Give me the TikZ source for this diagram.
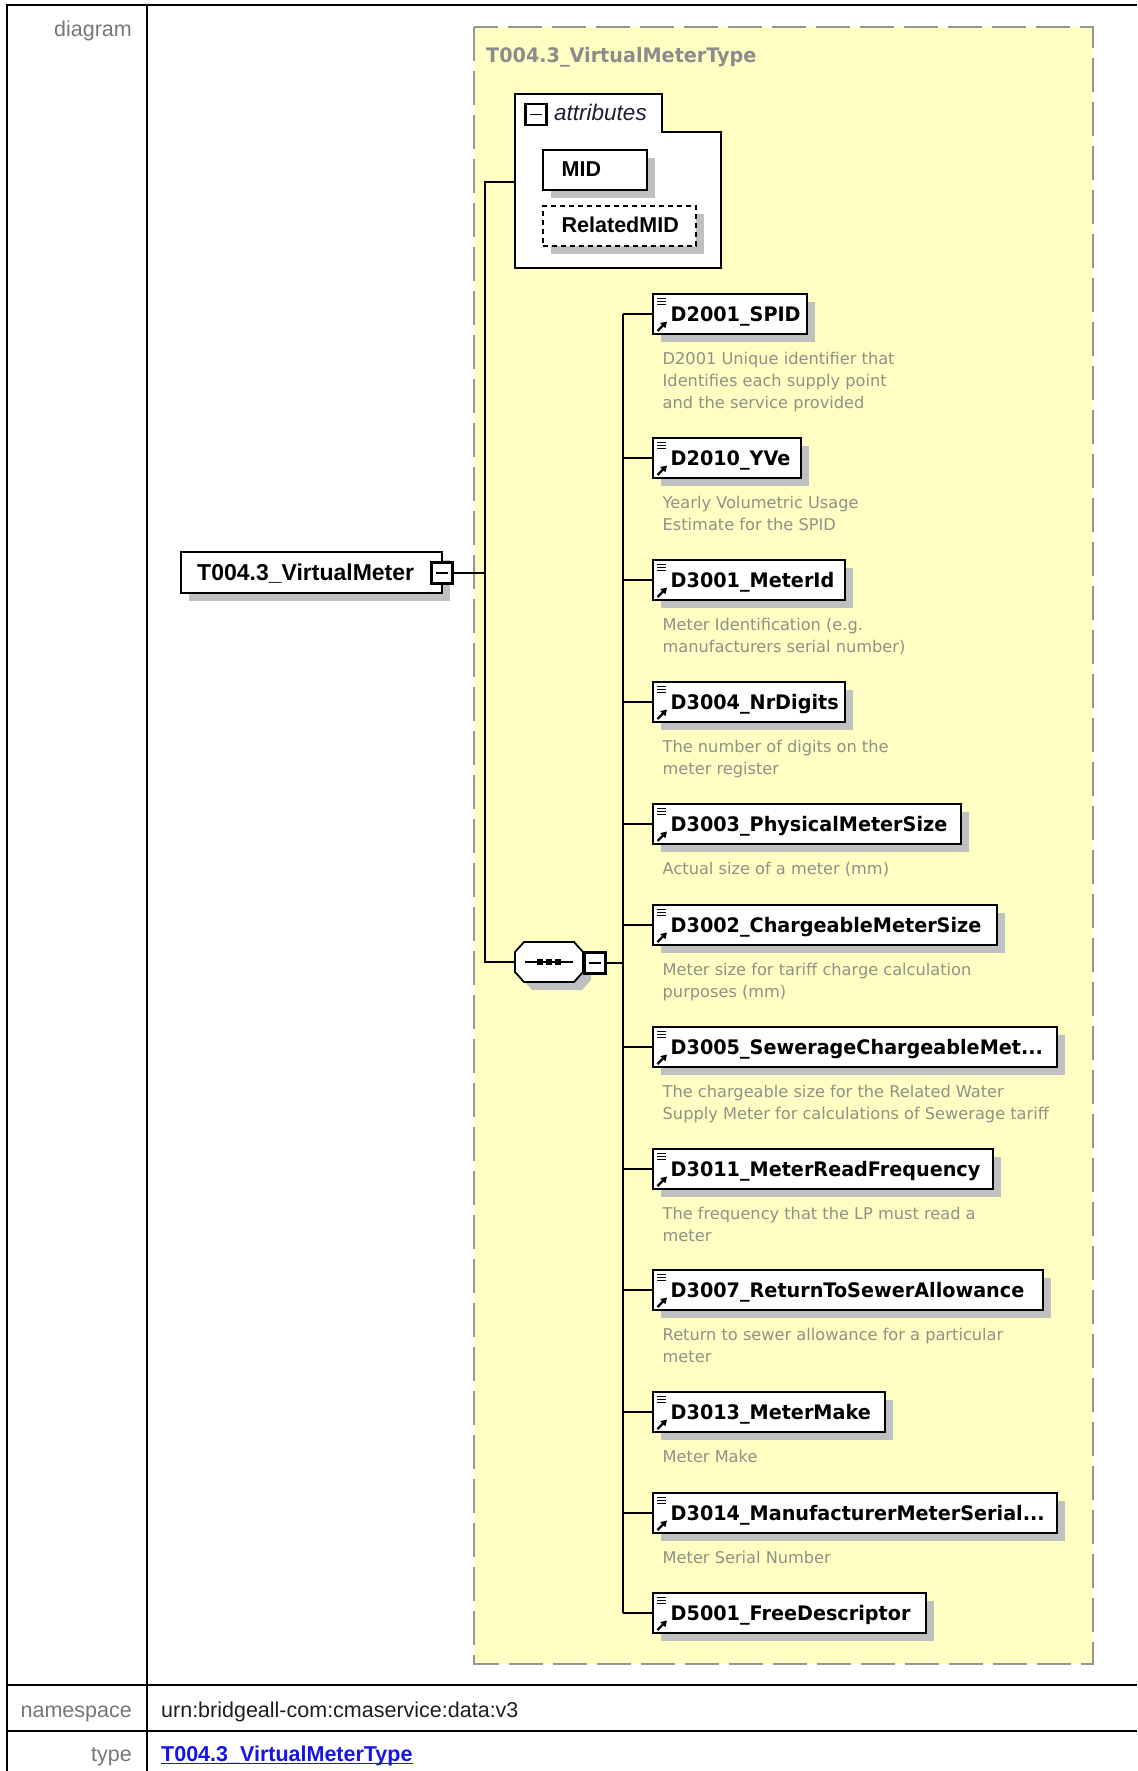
\documentclass[tikz,border=0pt]{standalone}
\usepackage{fontspec}
\setmainfont{Liberation Sans}
\newfontfamily\namefont[FakeStretch=0.96]{DejaVu Sans}
\newfontfamily\descfont{DejaVu Sans}
\usetikzlibrary{arrows.meta,shadows}
\definecolor{yfill}{RGB}{255,255,196}
\definecolor{dashc}{RGB}{150,150,150}
\definecolor{shadowc}{RGB}{192,192,192}
\definecolor{descc}{RGB}{145,145,135}
\definecolor{titlec}{RGB}{140,140,140}
\definecolor{lblc}{RGB}{119,119,119}
\definecolor{valc}{RGB}{30,30,30}
\definecolor{linkc}{RGB}{20,20,235}
\definecolor{attrc}{RGB}{30,30,50}
\newcommand\elem[4]{%
  \node[ebox, minimum width={#3-653}, anchor=west] (#1) at (653,#2) {};
  \node[nm] (#1t) at (670.5,{#2+7.5}) {#4};
  \draw[line width=1.2pt] (657,{#2-15.5}) -- (666,{#2-15.5}) (657,{#2-12.5}) -- (666,{#2-12.5}) (657,{#2-9.5}) -- (666,{#2-9.5});
  \draw[line width=2.2pt, -{Triangle[length=6pt,width=7pt]}] (657.5,{#2+17}) -- (667,{#2+7.5});
  \draw[conn] (ct |- #1.west) -- (#1.west);
}
\newcommand\dline[3]{\node[desc] (#1) at (662.5,#2) {#3};}
\begin{document}
\begin{tikzpicture}[x=1pt,y=-1pt,
  conn/.style={line width=1.8pt, draw=black},
  ebox/.style={draw=black, line width=1.8pt, fill=white, inner sep=0pt, outer sep=0pt, minimum height=40pt,
    drop shadow={shadow xshift=8pt, shadow yshift=-8pt, fill=shadowc, opacity=1}},
  nm/.style={font=\namefont\bfseries\fontsize{20}{24}\selectfont, inner sep=0pt, anchor=base west},
  desc/.style={font=\descfont\fontsize{16.2}{22}\selectfont, text=descc, inner sep=0pt, anchor=base west},
  lbl/.style={font=\fontsize{21.5}{24}\selectfont, text=lblc, inner sep=0pt, anchor=base east},
  minusbox/.style={draw=black, line width=2.4pt, fill=white, minimum size=21pt, inner sep=0pt, outer sep=0pt,
    path picture={\draw[line width=1.5pt] ([xshift=-6pt]path picture bounding box.center) -- ([xshift=6pt]path picture bounding box.center);}},
  arial/.style={font=\bfseries\fontsize{21.5}{24}\selectfont, inner sep=0pt, anchor=base west}
]
\useasboundingbox (0,0) rectangle (1137,1771);
% table
\draw[line width=2.2pt] (1137,5) -- (7,5) -- (7,1771);
\draw[line width=2.2pt] (147,5) -- (147,1771);
\draw[line width=2.2pt] (7,1685) -- (1137,1685);
\draw[line width=2.2pt] (7,1731) -- (1137,1731);
\node[lbl] (lDiagram) at (132,37) {diagram};
\node[lbl] (lNs) at (132,1717) {namespace};
\node[lbl] (lType) at (132,1761) {type};
\node[font=\fontsize{21.5}{24}\selectfont, text=valc, inner sep=0pt, anchor=base west] (vNs) at (161,1717) {urn:bridgeall-com:cmaservice:data:v3};
\node[font=\bfseries\fontsize{21.5}{24}\selectfont, text=linkc, inner sep=0pt, anchor=base west] (vType) at (161,1761) {T004.3\_VirtualMeterType};
\draw[line width=1.6pt, draw=linkc] ([yshift=-2.5pt]vType.base west) -- ([yshift=-2.5pt]vType.base east);
% type container
\draw[draw=dashc, line width=2.4pt, dash pattern=on 34pt off 10pt, fill=yfill] (474,27) rectangle (1093,1664);
\node[font=\namefont\bfseries\fontsize{20}{24}\selectfont, text=titlec, inner sep=0pt, anchor=base west] (ttl) at (486,63) {T004.3\_VirtualMeterType};
% coordinates
\coordinate (tr) at (485,573);
\coordinate (attrw) at (515,182);
\coordinate (seqw) at (515,962);
\coordinate (ct) at (623,962);
% main trunk
\draw[conn] (attrw) -- (tr |- attrw) -- (tr |- seqw) -- (seqw);
% main element
\node[ebox, minimum width=261pt, minimum height=41pt, anchor=north west] (vm) at (181,552) {};
\node[font=\bfseries\fontsize{23}{26}\selectfont, inner sep=0pt, anchor=base west] (vmt) at (197,580) {T004.3\_VirtualMeter};
\node[minusbox] (vmm) at (442,573) {};
\draw[conn] (vmm.east) -- (tr);
% attributes
\filldraw[fill=white, line width=1.8pt] (515,94) -- (662,94) -- (662,132) -- (721,132) -- (721,268) -- (515,268) -- cycle;
\node[minusbox] (attrm) at (536,114.5) {};
\node[font=\itshape\fontsize{22.5}{24}\selectfont, text=attrc, inner sep=0pt, anchor=base west] (attrt) at (554,121) {attributes};
\node[ebox, minimum width=104pt, anchor=north west] (mid) at (543,150) {};
\node[arial] (midt) at (561.5,177) {MID};
\node[ebox, dash pattern=on 5pt off 4pt, minimum width=153pt, anchor=north west] (rmid) at (543,206) {};
\node[arial] (rmidt) at (561.5,233) {RelatedMID};
% sequence
\fill[shadowc] (532,950) -- (582,950) -- (591,960) -- (591,980) -- (582,990) -- (532,990) -- (523,980) -- (523,960) -- cycle;
\filldraw[fill=white, line width=1.8pt] (524,942) -- (574,942) -- (583,952) -- (583,972) -- (574,982) -- (524,982) -- (515,972) -- (515,952) -- cycle;
\coordinate (seq) at (549,962);
\draw[line width=1.6pt] (525,962) -- (573,962);
\fill (537,959) rectangle (543,965);
\fill (546,959) rectangle (552,965);
\fill (555,959) rectangle (561,965);
\node[minusbox] (seqm) at (595,963) {};
\draw[conn] (seqm.east) -- (ct |- seqm.east);
% children
\elem{c1}{314}{807}{D2001\_SPID}
\elem{c2}{458}{801}{D2010\_YVe}
\elem{c3}{580}{845}{D3001\_MeterId}
\elem{c4}{702}{845}{D3004\_NrDigits}
\elem{c5}{824}{961}{D3003\_PhysicalMeterSize}
\elem{c6}{925}{997}{D3002\_ChargeableMeterSize}
\elem{c7}{1047}{1057}{D3005\_SewerageChargeableMet...}
\elem{c8}{1169}{993}{D3011\_MeterReadFrequency}
\elem{c9}{1290}{1043}{D3007\_ReturnToSewerAllowance}
\elem{c10}{1412}{885}{D3013\_MeterMake}
\elem{c11}{1513}{1057}{D3014\_ManufacturerMeterSerial...}
\elem{c12}{1613}{926}{D5001\_FreeDescriptor}
\draw[conn] (ct |- c1.west) -- (ct |- c12.west);
% descriptions
\dline{d1a}{364.5}{D2001 Unique identifier that}
\dline{d1b}{386.5}{Identifies each supply point}
\dline{d1c}{408.5}{and the service provided}
\dline{d2a}{508.5}{Yearly Volumetric Usage}
\dline{d2b}{530.5}{Estimate for the SPID}
\dline{d3a}{630.5}{Meter Identification (e.g.}
\dline{d3b}{652.5}{manufacturers serial number)}
\dline{d4a}{752.5}{The number of digits on the}
\dline{d4b}{774.5}{meter register}
\dline{d5a}{874.5}{Actual size of a meter (mm)}
\dline{d6a}{975.5}{Meter size for tariff charge calculation}
\dline{d6b}{997.5}{purposes (mm)}
\dline{d7a}{1097.5}{The chargeable size for the Related Water}
\dline{d7b}{1119.5}{Supply Meter for calculations of Sewerage tariff}
\dline{d8a}{1219.5}{The frequency that the LP must read a}
\dline{d8b}{1241.5}{meter}
\dline{d9a}{1340.5}{Return to sewer allowance for a particular}
\dline{d9b}{1362.5}{meter}
\dline{d10a}{1462.5}{Meter Make}
\dline{d11a}{1563.5}{Meter Serial Number}
\end{tikzpicture}
\end{document}
